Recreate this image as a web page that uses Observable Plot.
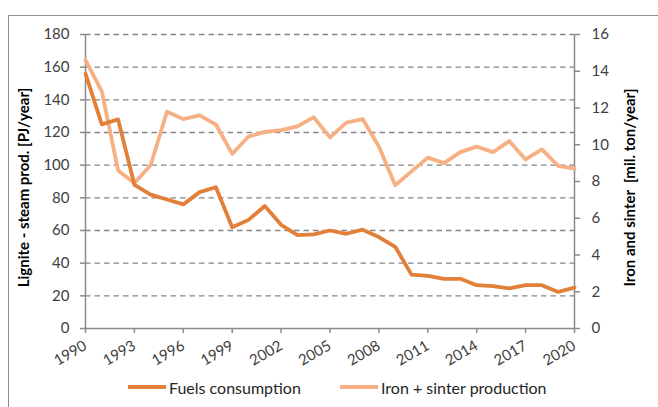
<!DOCTYPE html>
<html>
<head>
<meta charset="utf-8">
<script src="https://cdn.jsdelivr.net/npm/d3@7"></script>
<script src="https://cdn.jsdelivr.net/npm/@observablehq/plot@0.6"></script>
<style>
  html, body { margin: 0; padding: 0; background: #fff; overflow: hidden; }
  body { width: 658px; height: 407px; position: relative; font-family: Lato, "Open Sans", sans-serif; }
  #frame { position: absolute; left: 8px; top: 15px; width: 720px; height: 440px; border: 1.5px solid #8c8c8c; box-sizing: border-box; }
  #chart { position: absolute; left: 0; top: 0; }
  #legend { position: absolute; left: 0; top: 372px; width: 658px; height: 30px; font-size: 16px; color: #262626; }
  .item { position: absolute; top: 0; height: 30px; display: flex; align-items: center; }
  .sw { width: 38px; height: 4px; margin-right: 3px; }
</style>
</head>
<body>
<div id="frame"></div>
<div id="chart"></div>
<div id="legend"></div>
<script>
const years = d3.range(1990, 2021);
// Fuels consumption, PJ/year (left axis)
const fuels = [156, 125, 128, 88, 82, 79, 76, 83.5, 86.5, 62, 66.5, 75, 63.5, 57.2, 57.6, 60, 58, 60.5, 56, 50, 33, 32.2, 30.4, 30.4, 26.5, 26, 24.5, 26.5, 26.5, 22.4, 25];
// Iron + sinter production, mil. ton/year (right axis)
const iron = [14.6, 12.9, 8.6, 7.9, 8.9, 11.8, 11.4, 11.6, 11.1, 9.5, 10.45, 10.7, 10.8, 11.0, 11.5, 10.4, 11.2, 11.4, 9.9, 7.8, 8.55, 9.3, 9.0, 9.6, 9.9, 9.6, 10.2, 9.2, 9.75, 8.85, 8.7];
const leftTicks = [0, 20, 40, 60, 80, 100, 120, 140, 160, 180];
const rightTicks = [0, 2, 4, 6, 8, 10, 12, 14, 16];
const xTicks = d3.range(1990, 2021, 3);
const seriesNames = ["Fuels consumption", "Iron + sinter production"];
const leftTitle = "Lignite - steam prod. [PJ/year]";
const rightTitle = "Iron and sinter  [mil. ton/year]";

const colors = ["#e2803a", "#f6b084"];
const k = 180 / 16; // right axis -> left axis units

const fuelsData = years.map((y, i) => ({year: y, v: fuels[i]}));
const ironData = years.map((y, i) => ({year: y, v: iron[i] * k}));

const axisColor = "#8a8a8a";
const plot = Plot.plot({
  width: 658,
  height: 372,
  marginLeft: 85,
  marginRight: 84,
  marginTop: 34,
  marginBottom: 44,
  style: { fontFamily: "Lato, 'Open Sans', sans-serif", fontSize: "15px", color: "#404040", background: "transparent", overflow: "visible" },
  x: { domain: [1990, 2020] },
  y: { domain: [0, 180] },
  marks: [
    Plot.gridY(leftTicks.filter(d => d > 0), { stroke: "#858585", strokeOpacity: 1, strokeWidth: 1.3, strokeDasharray: "5.5,4", x1: 1990, x2: 2020 }),
    Plot.ruleX([1990, 2020], { stroke: axisColor, strokeWidth: 1.5 }),
    Plot.ruleY([0], { stroke: axisColor, strokeWidth: 1.5 }),
    Plot.axisY(leftTicks, { anchor: "left", tickSize: 5, tickPadding: 11, stroke: axisColor, strokeWidth: 1.5, label: null, fill: "#404040", fontSize: 15 }),
    Plot.axisY(rightTicks.map(d => d * k), { anchor: "right", tickSize: 5, tickPadding: 12, stroke: axisColor, strokeWidth: 1.5, label: null, tickFormat: d => Math.round(d / k), fill: "#404040", fontSize: 15 }),
    Plot.axisX(xTicks, { anchor: "bottom", tickSize: 5, tickPadding: 11, tickRotate: -30, stroke: axisColor, strokeWidth: 1.5, label: null, tickFormat: d => String(d), fill: "#404040", fontSize: 15 }),
    Plot.line(ironData, { x: "year", y: "v", stroke: colors[1], strokeWidth: 3.8, strokeLinejoin: "round", strokeLinecap: "round" }),
    Plot.line(fuelsData, { x: "year", y: "v", stroke: colors[0], strokeWidth: 3.8, strokeLinejoin: "round", strokeLinecap: "round" }),
    Plot.text([leftTitle], { frameAnchor: "left", textAnchor: "middle", dx: -61, dy: 6, rotate: -90, fontWeight: "bold", fontSize: 15, fill: "#000" }),
    Plot.text([rightTitle], { frameAnchor: "right", textAnchor: "middle", dx: 56, dy: 6, rotate: -90, fontWeight: "bold", fontSize: 15, fill: "#000" })
  ]
});
document.getElementById("chart").appendChild(plot);

const legend = document.getElementById("legend");
const lefts = [128, 340];
seriesNames.forEach((name, i) => {
  const item = document.createElement("div");
  item.className = "item";
  item.style.left = lefts[i] + "px";
  const sw = document.createElement("div");
  sw.className = "sw";
  sw.style.background = colors[i];
  const t = document.createElement("span");
  t.textContent = name;
  item.appendChild(sw);
  item.appendChild(t);
  legend.appendChild(item);
});
</script>
</body>
</html>
